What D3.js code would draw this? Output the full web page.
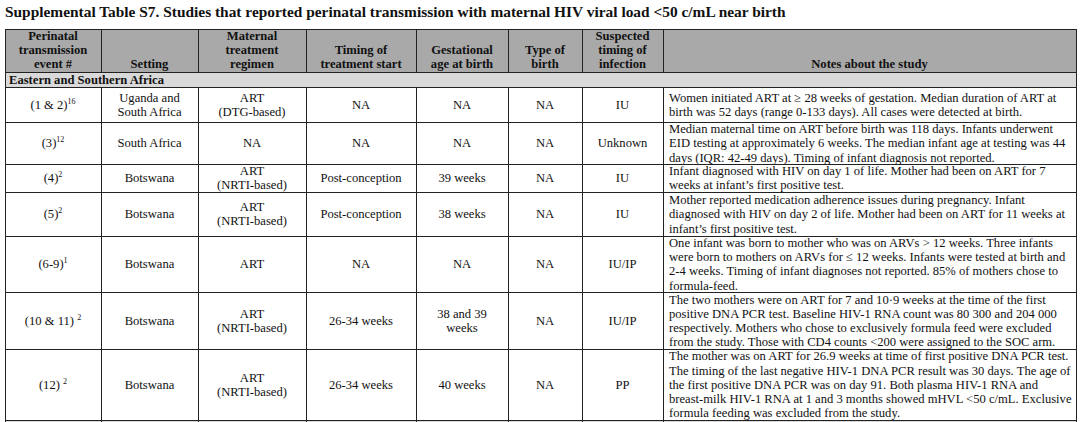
<!DOCTYPE html>
<html>
<head>
<meta charset="utf-8">
<script src="https://cdn.jsdelivr.net/npm/d3@7"></script>
<style>
html, body { margin: 0; padding: 0; background: #fff; }
svg { display: block; font-family: "Liberation Serif", "Times New Roman", serif; }
</style>
</head>
<body>
<div id="chart"></div>
<script>
// ---- table content ----
const title = "Supplemental Table S7. Studies that reported perinatal transmission with maternal HIV viral load <50 c/mL near birth";
const headers = [
  ["Perinatal", "transmission", "event #"],
  ["Setting"],
  ["Maternal", "treatment", "regimen"],
  ["Timing of", "treatment start"],
  ["Gestational", "age at birth"],
  ["Type of", "birth"],
  ["Suspected", "timing of", "infection"],
  ["Notes about the study"]
];
const region = "Eastern and Southern Africa";
const eventIds = ["(1 & 2)", "(3)", "(4)", "(5)", "(6-9)", "(10 & 11)\u00a0", "(12)\u00a0"];
const eventRefs = ["16", "12", "2", "2", "1", "2", "2"];
const settings = [["Uganda and", "South Africa"], ["South Africa"], ["Botswana"], ["Botswana"], ["Botswana"], ["Botswana"], ["Botswana"]];
const regimens = [["ART", "(DTG-based)"], ["NA"], ["ART", "(NRTI-based)"], ["ART", "(NRTI-based)"], ["ART"], ["ART", "(NRTI-based)"], ["ART", "(NRTI-based)"]];
const treatmentStart = [["NA"], ["NA"], ["Post-conception"], ["Post-conception"], ["NA"], ["26-34 weeks"], ["26-34 weeks"]];
const gestationalAge = [["NA"], ["NA"], ["39 weeks"], ["38 weeks"], ["NA"], ["38 and 39", "weeks"], ["40 weeks"]];
const birthType = [["NA"], ["NA"], ["NA"], ["NA"], ["NA"], ["NA"], ["NA"]];
const infectionTiming = [["IU"], ["Unknown"], ["IU"], ["IU"], ["IU/IP"], ["IU/IP"], ["PP"]];
const notes = [
  ["Women initiated ART at \u2265 28 weeks of gestation. Median duration of ART at",
   "birth was 52 days (range 0-133 days). All cases were detected at birth."],
  ["Median maternal time on ART before birth was 118 days. Infants underwent",
   "EID testing at approximately 6 weeks. The median infant age at testing was 44",
   "days (IQR: 42-49 days). Timing of infant diagnosis not reported."],
  ["Infant diagnosed with HIV on day 1 of life. Mother had been on ART for 7",
   "weeks at infant\u2019s first positive test."],
  ["Mother reported medication adherence issues during pregnancy. Infant",
   "diagnosed with HIV on day 2 of life. Mother had been on ART for 11 weeks at",
   "infant\u2019s first positive test."],
  ["One infant was born to mother who was on ARVs > 12 weeks. Three infants",
   "were born to mothers on ARVs for \u2264 12 weeks. Infants were tested at birth and",
   "2-4 weeks. Timing of infant diagnoses not reported. 85% of mothers chose to",
   "formula-feed."],
  ["The two mothers were on ART for 7 and 10\u00b79 weeks at the time of the first",
   "positive DNA PCR test. Baseline HIV-1 RNA count was 80 300 and 204 000",
   "respectively. Mothers who chose to exclusively formula feed were excluded",
   "from the study. Those with CD4 counts <200 were assigned to the SOC arm."],
  ["The mother was on ART for 26.9 weeks at time of first positive DNA PCR test.",
   "The timing of the last negative HIV-1 DNA PCR result was 30 days. The age of",
   "the first positive DNA PCR was on day 91. Both plasma HIV-1 RNA and",
   "breast-milk HIV-1 RNA at 1 and 3 months showed mHVL <50 c/mL. Exclusive",
   "formula feeding was excluded from the study."]
];

// ---- layout ----
const W = 1080, H = 422;
const left = 5;
const colWidths = [96, 97, 108, 110, 92, 74, 81, 413];
const tableTop = 29, headerH = 43, sectionH = 15;
const rowHeights = [35, 42, 28, 44, 56, 57, 71];
const lineH = 14.2;
const fontSize = 12.6;

const colX = [left].concat(Array.from(d3.cumsum(colWidths), d => left + d));
const x = d3.scaleOrdinal().domain(d3.range(colWidths.length + 1)).range(colX);
const rowTop = [tableTop + headerH + sectionH].concat(
  Array.from(d3.cumsum(rowHeights), d => tableTop + headerH + sectionH + d));
const y = d3.scaleOrdinal().domain(d3.range(rowHeights.length + 1)).range(rowTop);
const tableRight = x(colWidths.length);

const svg = d3.select("#chart").append("svg")
  .attr("width", W).attr("height", H);

svg.append("text")
  .attr("x", left).attr("y", 17)
  .attr("font-size", 15.4).attr("font-weight", "bold").attr("fill", "#111")
  .text(title);

// header band
svg.append("rect")
  .attr("x", left).attr("y", tableTop)
  .attr("width", tableRight - left).attr("height", headerH)
  .attr("fill", "#a9a9a9");

// region band
svg.append("rect")
  .attr("x", left).attr("y", tableTop + headerH)
  .attr("width", tableRight - left).attr("height", sectionH)
  .attr("fill", "#d9d9d9");

// next section band (cut off at the bottom)
svg.append("rect")
  .attr("x", left).attr("y", y(rowHeights.length))
  .attr("width", tableRight - left).attr("height", 20)
  .attr("fill", "#d9d9d9");

// header text: bottom aligned
const head = svg.append("g").attr("class", "header")
  .attr("font-weight", "bold").attr("font-size", fontSize).attr("fill", "#111")
  .attr("text-anchor", "middle");
headers.forEach((lines, c) => {
  const cx = (x(c) + x(c + 1)) / 2;
  const base = tableTop + headerH - 4;
  head.append("text")
    .selectAll("tspan").data(lines).join("tspan")
    .attr("x", cx)
    .attr("y", (d, i) => base - (lines.length - 1 - i) * lineH)
    .text(d => d);
});

svg.append("text")
  .attr("x", left + 4).attr("y", tableTop + headerH + sectionH - 3.5)
  .attr("font-size", fontSize).attr("font-weight", "bold").attr("fill", "#111")
  .text(region);

// body cells
const body = svg.append("g").attr("class", "body")
  .attr("font-size", fontSize).attr("fill", "#111");

const centred = [settings, regimens, treatmentStart, gestationalAge, birthType, infectionTiming];

eventIds.forEach((id, r) => {
  const cy = (y(r) + y(r + 1)) / 2;
  const t = body.append("text")
    .attr("x", (x(0) + x(1)) / 2).attr("y", cy + 4.3)
    .attr("text-anchor", "middle");
  t.append("tspan").text(id);
  t.append("tspan").attr("font-size", 8).attr("dy", -5).text(eventRefs[r]);

  centred.forEach((col, k) => {
    const lines = col[r];
    const c = k + 1;
    body.append("text")
      .attr("text-anchor", "middle")
      .selectAll("tspan").data(lines).join("tspan")
      .attr("x", (x(c) + x(c + 1)) / 2)
      .attr("y", (d, i) => cy + 4.3 + (i - (lines.length - 1) / 2) * lineH)
      .text(d => d);
  });

  const nl = notes[r];
  body.append("text")
    .selectAll("tspan").data(nl).join("tspan")
    .attr("x", x(7) + 6)
    .attr("y", (d, i) => cy + 4.3 + (i - (nl.length - 1) / 2) * lineH)
    .text(d => d);
});

// grid lines
const grid = svg.append("g").attr("stroke", "#222").attr("stroke-width", 1).attr("fill", "none");
const hLines = [tableTop, tableTop + headerH, tableTop + headerH + sectionH].concat(rowTop.slice(1));
grid.selectAll("line.h").data(hLines).join("line")
  .attr("class", "h")
  .attr("x1", left).attr("x2", tableRight)
  .attr("y1", d => Math.round(d) + 0.5).attr("y2", d => Math.round(d) + 0.5);
// vertical lines: full height at the outer edges, interrupted by the region band
grid.selectAll("line.vh").data(colX).join("line")
  .attr("class", "vh")
  .attr("x1", d => Math.round(d) + 0.5).attr("x2", d => Math.round(d) + 0.5)
  .attr("y1", tableTop).attr("y2", tableTop + headerH);
grid.selectAll("line.vb").data(colX).join("line")
  .attr("class", "vb")
  .attr("x1", d => Math.round(d) + 0.5).attr("x2", d => Math.round(d) + 0.5)
  .attr("y1", rowTop[0]).attr("y2", H);
grid.selectAll("line.vs").data([colX[0], colX[colX.length - 1]]).join("line")
  .attr("class", "vs")
  .attr("x1", d => Math.round(d) + 0.5).attr("x2", d => Math.round(d) + 0.5)
  .attr("y1", tableTop + headerH).attr("y2", rowTop[0]);
</script>
</body>
</html>
